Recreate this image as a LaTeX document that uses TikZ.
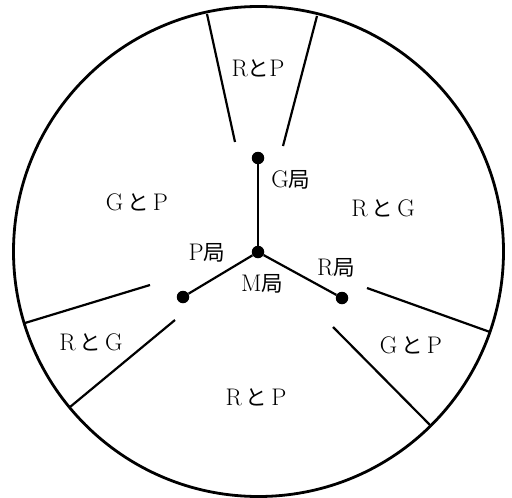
\documentclass[tikz,border=0pt]{standalone}
\usepackage{fontspec}
\newfontfamily\jp[Scale=0.9]{Noto Sans CJK JP}
\begin{document}
\begin{tikzpicture}[x=1pt,y=-1pt,
  lbl/.style={inner sep=0pt,font=\fontsize{24}{26}\selectfont},
  dot/.style={circle,fill=black,inner sep=0pt,minimum size=12.5pt},
  link/.style={line width=2.2pt},
  wall/.style={line width=2.2pt},
  rim/.style={line width=2.8pt}]
\useasboundingbox (0,0) rectangle (512,498);
% outer circle
\draw[rim] (258.5,251.5) circle (245);
% sector boundaries
\draw[wall] (207,14) -- (235,142);
\draw[wall] (317,16) -- (283,146);
\draw[wall] (25,323) -- (150,285);
\draw[wall] (70,407) -- (175,320);
\draw[wall] (367,288) -- (490,332);
\draw[wall] (333,327) -- (430,425);
% stations
\node[dot] (G) at (258,158) {};
\node[dot] (M) at (258,252) {};
\node[dot] (P) at (183,297) {};
\node[dot] (R) at (342,298) {};
\draw[link] (G) -- (M);
\draw[link] (M) -- (P);
\draw[link] (M) -- (R);
% station labels
\node[lbl] (Gl) at (291,180) {G{\jp 局}};
\node[lbl] (Pl) at (207,253) {P{\jp 局}};
\node[lbl] (Ml) at (262,284) {M{\jp 局}};
\node[lbl] (Rl) at (336,268) {R{\jp 局}};
% region labels
\node[lbl] (t) at (258,68) {R{\jp と}P};
\node[lbl] (l) at (137,202) {G\,{\jp と}\,P};
\node[lbl] (r) at (383,208) {R\,{\jp と}\,G};
\node[lbl] (bl) at (91,342) {R\,{\jp と}\,G};
\node[lbl] (br) at (411,345) {G\,{\jp と}\,P};
\node[lbl] (b) at (256,397) {R\,{\jp と}\,P};
\end{tikzpicture}
\end{document}
